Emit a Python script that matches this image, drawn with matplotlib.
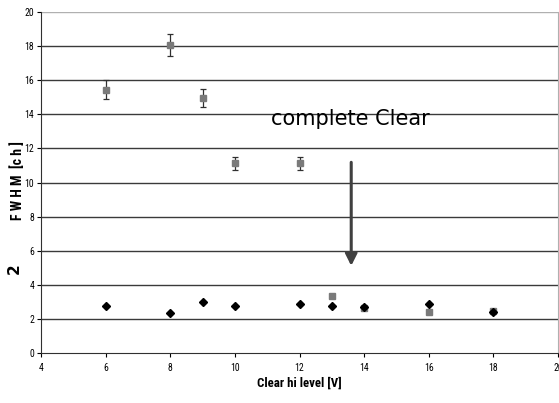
import numpy as np
import matplotlib.pyplot as plt
from matplotlib import font_manager

# FWHM vs clear hi level
x_diam = [6, 8, 9, 10, 12, 13, 14, 16, 18]
y_diam = [2.77, 2.33, 2.97, 2.77, 2.87, 2.77, 2.70, 2.86, 2.40]

x_sq = [6, 8, 9, 10, 12, 13, 14, 16, 18]
y_sq = [15.44, 18.05, 14.97, 11.13, 11.12, 3.34, 2.62, 2.40, 2.46]
err_sq = [0.55, 0.65, 0.53, 0.38, 0.38, 0, 0, 0, 0]

xticks = [4, 6, 8, 10, 12, 14, 16, 18, 20]
yticks = [0, 2, 4, 6, 8, 10, 12, 14, 16, 18, 20]

names = {f.name for f in font_manager.fontManager.ttflist}
narrow = 'DejaVu Sans'
for cand in ['Liberation Sans Narrow', 'Roboto Condensed', 'DejaVu Sans Condensed',
             'Liberation Sans']:
    if cand in names:
        narrow = cand
        break

fig = plt.figure(figsize=(5.59, 4.03), dpi=100)
ax = fig.add_axes([0.0733, 0.124, 0.925, 0.846])

for t in yticks[1:-1]:
    ax.axhline(t, color='#3a3a3a', lw=1.0, zorder=1)
ax.axhline(20, color='#b0b0b0', lw=1.0, zorder=1)

ax.errorbar(x_sq, y_sq, yerr=err_sq, fmt='s', color='#7a7a7a', ms=5,
            ecolor='#303030', elinewidth=0.9, capsize=2.5, capthick=0.9, zorder=3)
ax.plot(x_diam, y_diam, 'D', color='black', ms=3.8, zorder=4)

ax.annotate('', xy=(13.6, 4.95), xytext=(13.6, 11.35),
            arrowprops=dict(arrowstyle='-|>,head_width=0.35,head_length=0.7',
                            color='#404040', lw=2.2), zorder=5)
ax.text(11.12, 13.37, 'complete Clear', fontsize=15, color='black',
        family='DejaVu Sans', ha='left', va='baseline', zorder=6)

ax.set_xlim(4, 20)
ax.set_ylim(0, 20)
ax.set_xticks(xticks)
ax.set_yticks(yticks)
ax.set_xticklabels([str(v) for v in xticks], family=narrow, fontsize=7)
ax.set_yticklabels([str(v) for v in yticks], family=narrow, fontsize=7)
ax.tick_params(axis='both', direction='out', length=3, width=0.8, colors='black', pad=4)
ax.tick_params(axis='y', pad=2)

ax.spines['top'].set_visible(False)
ax.spines['right'].set_color('#b0b0b0')
ax.spines['left'].set_color('#303030')
ax.spines['bottom'].set_color('#303030')

fig.text(0.535, 0.05, 'Clear hi level [V]', family=narrow, fontsize=9.3,
         fontweight='bold', ha='center', va='center')
fig.text(0.031, 0.553, 'F W H M  [c h ]', family=narrow, fontsize=10,
         fontweight='bold', rotation=90, ha='center', va='center')
fig.text(0.025, 0.333, '2', family='DejaVu Sans', fontsize=11,
         fontweight='bold', rotation=90, ha='center', va='center')

plt.savefig('out.png', dpi=100)
